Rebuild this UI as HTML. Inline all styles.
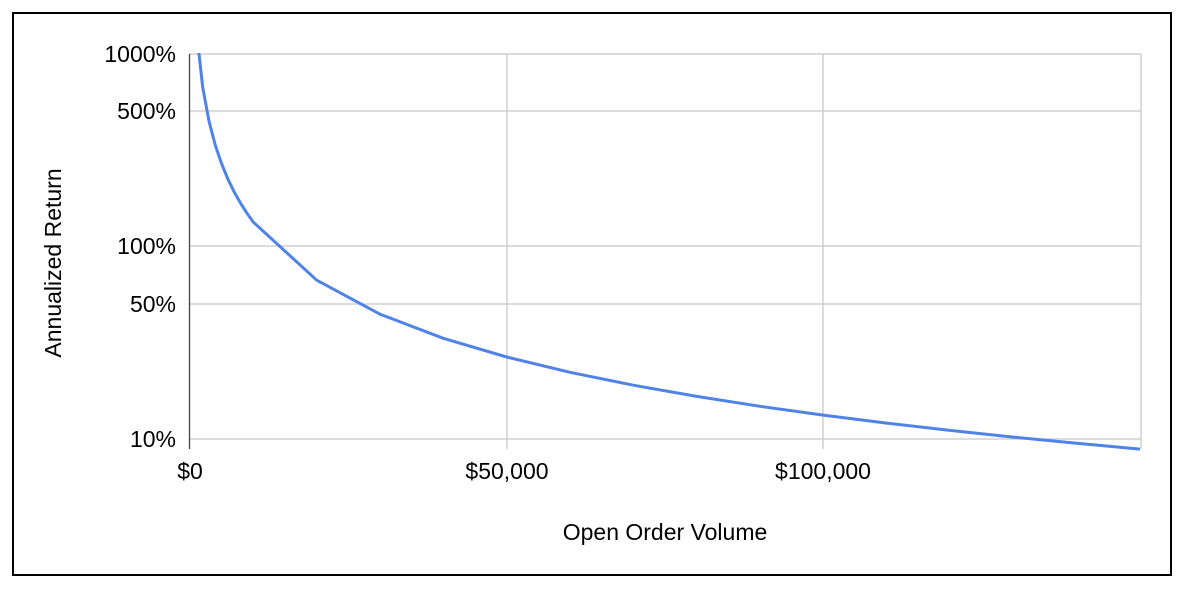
<!DOCTYPE html>
<html><head><style>
body{margin:0;background:#fff;}
svg text{font-family:"Liberation Sans",Arial,sans-serif;fill:#000;}
</style></head><body>
<svg width="1186" height="588" viewBox="0 0 1186 588" xmlns="http://www.w3.org/2000/svg">
<rect x="0" y="0" width="1186" height="588" fill="#fff"/>
<rect x="13" y="13" width="1158" height="562" fill="none" stroke="#000" stroke-width="2"/>
<defs><clipPath id="c"><rect x="189" y="53" width="953" height="400"/></clipPath></defs>
<g stroke="#c8c8c8" stroke-width="1.3">
<line x1="189" y1="54" x2="1141" y2="54"/>
<line x1="189" y1="111" x2="1141" y2="111"/>
<line x1="189" y1="246" x2="1141" y2="246"/>
<line x1="189" y1="304" x2="1141" y2="304"/>
<line x1="189" y1="439" x2="1141" y2="439"/>
<line x1="507" y1="54" x2="507" y2="449"/>
<line x1="823" y1="54" x2="823" y2="449"/>
<line x1="1141" y1="54" x2="1141" y2="449"/>
</g>
<line x1="189.5" y1="54" x2="189.5" y2="449" stroke="#444" stroke-width="1.3"/>
<polyline clip-path="url(#c)" fill="none" stroke="#5083e8" stroke-width="3" stroke-linejoin="round"
points="196.3,29.1 202.7,87.2 209,121.2 215.3,145.3 221.7,164 228,179.3 234.3,192.2 240.7,203.4 247,213.3 253.3,222.1 316.7,280.2 380,314.2 443.3,338.3 506.7,357 570,372.3 633.3,385.2 696.7,396.4 760,406.3 823.3,415.1 886.7,423.1 950,430.4 1013.3,437.1 1076.7,443.3 1140,449.1"/>
<g font-size="23" text-anchor="end">
<text x="176" y="62">1000%</text>
<text x="176" y="119">500%</text>
<text x="176" y="254">100%</text>
<text x="176" y="312">50%</text>
<text x="176" y="447">10%</text>
</g>
<g font-size="23" text-anchor="middle">
<text x="190" y="479">$0</text>
<text x="507" y="479">$50,000</text>
<text x="823" y="479">$100,000</text>
<text x="665" y="540">Open Order Volume</text>
<text transform="translate(61,263) rotate(-90)">Annualized Return</text>
</g>
</svg>
</body></html>
